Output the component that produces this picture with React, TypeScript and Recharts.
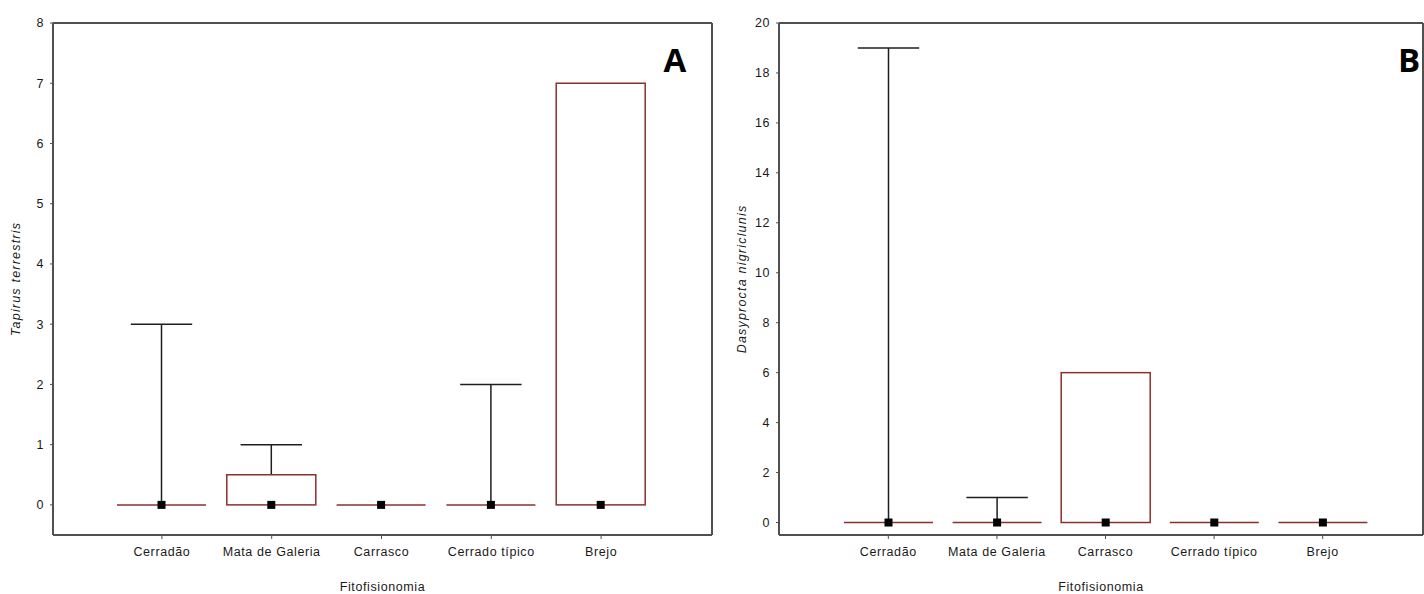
import { ComposedChart, Bar, XAxis, YAxis } from 'recharts';

const categories = ['Cerradão', 'Mata de Galeria', 'Carrasco', 'Cerrado típico', 'Brejo'];

// Panel A - Tapirus terrestris
const tapirusMin = [0, 0, 0, 0, 0];
const tapirusQ1 = [0, 0, 0, 0, 0];
const tapirusMedian = [0, 0, 0, 0, 0];
const tapirusQ3 = [0, 0.5, 0, 0, 7];
const tapirusMax = [3, 1, 0, 2, 7];
const tapirusTicks = [0, 1, 2, 3, 4, 5, 6, 7, 8];

// Panel B - Dasyprocta nigriclunis
const dasyproctaMin = [0, 0, 0, 0, 0];
const dasyproctaQ1 = [0, 0, 0, 0, 0];
const dasyproctaMedian = [0, 0, 0, 0, 0];
const dasyproctaQ3 = [0, 0, 6, 0, 0];
const dasyproctaMax = [19, 1, 6, 0, 0];
const dasyproctaTicks = [0, 2, 4, 6, 8, 10, 12, 14, 16, 18, 20];

const BOX_COLOR = '#8e2f2f';
const WHISKER_COLOR = '#1e1e1e';
const FRAME_COLOR = '#505050';
const FONT = '"Liberation Sans", Arial, sans-serif';

type Row = { name: string; min: number; q1: number; median: number; q3: number; max: number; range: [number, number] };

function buildRows(min: number[], q1: number[], median: number[], q3: number[], max: number[]): Row[] {
  return categories.map((name, i) => ({
    name,
    min: min[i],
    q1: q1[i],
    median: median[i],
    q3: q3[i],
    max: max[i],
    range: [min[i], max[i]],
  }));
}

// the bar spans min..max, everything else is placed inside it
function BoxShape(props: any) {
  const { x, y, width, height, payload } = props;
  if (!payload) return null;
  const top = Math.min(y, y + height);
  const bottom = Math.max(y, y + height);
  const span = payload.max - payload.min;
  const toY = (v: number) => (span === 0 ? bottom : bottom - ((v - payload.min) / span) * (bottom - top));
  const cx = x + width / 2;
  const capHalf = width * 0.345;
  const yMax = toY(payload.max);
  const yMin = toY(payload.min);
  const yQ1 = toY(payload.q1);
  const yQ3 = toY(payload.q3);
  const yMed = toY(payload.median);
  return (
    <g>
      {payload.max > payload.q3 && (
        <g stroke={WHISKER_COLOR} strokeWidth={1.5}>
          <line x1={cx} x2={cx} y1={yQ3} y2={yMax} />
          <line x1={cx - capHalf} x2={cx + capHalf} y1={yMax} y2={yMax} />
        </g>
      )}
      {payload.min < payload.q1 && (
        <g stroke={WHISKER_COLOR} strokeWidth={1.5}>
          <line x1={cx} x2={cx} y1={yQ1} y2={yMin} />
          <line x1={cx - capHalf} x2={cx + capHalf} y1={yMin} y2={yMin} />
        </g>
      )}
      {payload.q3 > payload.q1 ? (
        <rect x={x} y={yQ3} width={width} height={yQ1 - yQ3} fill="none" stroke={BOX_COLOR} strokeWidth={1.5} />
      ) : (
        <line x1={x} x2={x + width} y1={yQ1} y2={yQ1} stroke={BOX_COLOR} strokeWidth={1.5} />
      )}
      <rect x={cx - 4} y={yMed - 4} width={8} height={8} fill="#000" />
    </g>
  );
}

type PanelProps = {
  rows: Row[];
  ticks: number[];
  domain: [number, number];
  width: number;
  padding: { left: number; right: number };
  yLabel: string;
};

function BoxPanel({ rows, ticks, domain, width, padding, yLabel }: PanelProps) {
  const axisLine = { stroke: FRAME_COLOR, strokeWidth: 2 };
  const tickStyle = { fontSize: 12.5, fill: '#1a1a1a', fontFamily: FONT, letterSpacing: 0.6 };
  return (
    <ComposedChart width={width} height={594} data={rows} margin={{ top: 21, right: 0, bottom: 0, left: 0 }}>
      <XAxis
        xAxisId="bottom"
        dataKey="name"
        height={59}
        padding={padding}
        axisLine={axisLine}
        tickLine={{ stroke: FRAME_COLOR }}
        tickSize={4}
        tickMargin={8}
        tick={tickStyle}
        interval={0}
        label={{
          content: ({ viewBox }: any) => (
            <text
              x={viewBox.x + viewBox.width / 2}
              y={viewBox.y + 56}
              textAnchor="middle"
              fontSize={12.5}
              fontFamily={FONT}
              letterSpacing={0.6}
              fill="#1a1a1a"
            >
              Fitofisionomia
            </text>
          ),
        }}
      />
      <XAxis xAxisId="top" dataKey="name" orientation="top" height={2} padding={padding} axisLine={axisLine} tick={false} tickLine={false} />
      <YAxis
        yAxisId="left"
        width={53}
        domain={domain}
        ticks={ticks}
        allowDataOverflow
        axisLine={axisLine}
        tickLine={{ stroke: FRAME_COLOR }}
        tickSize={3}
        tickMargin={6}
        tick={tickStyle}
        label={{
          content: ({ viewBox }: any) => {
            const lx = viewBox.x + 20;
            const ly = viewBox.y + viewBox.height / 2;
            return (
              <text
                x={lx}
                y={ly}
                transform={`rotate(-90 ${lx} ${ly})`}
                textAnchor="middle"
                fontSize={12.5}
                fontStyle="italic"
                fontFamily={FONT}
                letterSpacing={1.2}
                fill="#1a1a1a"
              >
                {yLabel}
              </text>
            );
          },
        }}
      />
      <YAxis yAxisId="right" orientation="right" width={8} domain={domain} ticks={ticks} allowDataOverflow axisLine={axisLine} tick={false} tickLine={false} />
      <Bar
        xAxisId="bottom"
        yAxisId="left"
        dataKey="range"
        barSize={89}
        shape={(p: any) => <BoxShape {...p} />}
        isAnimationActive={false}
      />
    </ComposedChart>
  );
}

const tapirusRows = buildRows(tapirusMin, tapirusQ1, tapirusMedian, tapirusQ3, tapirusMax);
const dasyproctaRows = buildRows(dasyproctaMin, dasyproctaQ1, dasyproctaMedian, dasyproctaQ3, dasyproctaMax);

export default function App() {
  return (
    <div style={{ position: 'fixed', left: 0, top: 0, width: 1424, height: 594, overflow: 'hidden', background: '#fff' }}>
      <div style={{ position: 'absolute', left: 0, top: 0 }}>
        <BoxPanel
          rows={tapirusRows}
          ticks={tapirusTicks}
          domain={[-0.5, 8]}
          width={720}
          padding={{ left: 54, right: 56 }}
          yLabel="Tapirus terrestris"
        />
      </div>
      <div style={{ position: 'absolute', left: 726, top: 0 }}>
        <BoxPanel
          rows={dasyproctaRows}
          ticks={dasyproctaTicks}
          domain={[-0.5, 20]}
          width={705}
          padding={{ left: 55, right: 46 }}
          yLabel="Dasyprocta nigriclunis"
        />
      </div>
      <svg width={1424} height={594} style={{ position: 'absolute', left: 0, top: 0, pointerEvents: 'none' }}>
        <text x={675} y={72} textAnchor="middle" fontFamily='"Open Sans", sans-serif' fontWeight={700} fontSize={33} fill="#000">
          A
        </text>
        <text x={1409} y={72} textAnchor="middle" fontFamily='"Open Sans", sans-serif' fontWeight={700} fontSize={33} fill="#000">
          B
        </text>
      </svg>
    </div>
  );
}
